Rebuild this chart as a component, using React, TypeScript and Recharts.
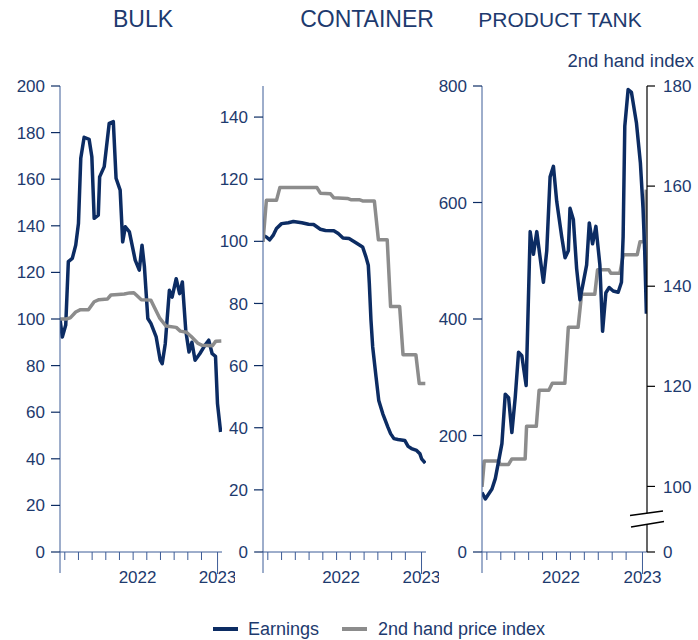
import React from 'react';
import { LineChart, Line, XAxis, YAxis } from 'recharts';

const NAVY = '#0c2c63';
const GREY = '#8c8c8c';
const TEXT = '#1d3a6e';
const AXIS = '#3d5c97';
const FONT = '"Liberation Sans", Arial, sans-serif';

// x positions are in months from the start of the series
const X_MAX = 23.7;
const MINOR_TICKS = [0.7, 2.7, 4.7, 6.7, 8.7, 10.7, 12.7, 14.7, 16.7, 18.7, 20.7];
const LABEL_2022 = 11.35;
const TICK_2023 = 23.05;
const X_TICKS = [0, ...MINOR_TICKS, LABEL_2022, TICK_2023];

const TITLES = ['BULK', 'CONTAINER', 'PRODUCT TANK'];
const SERIES_NAMES = ['Earnings', '2nd hand price index'];

// BULK
const bulkEarnM = [0, 0.34, 0.84, 1.22, 1.8, 2.3, 2.7, 3.04, 3.53, 4.26, 4.66, 5.0, 5.6, 5.8, 6.47, 7.2, 7.8, 8.2, 8.8, 9.17, 9.56, 10.15, 11.0, 11.6, 12.0, 12.35, 12.85, 13.3, 14.07, 14.66, 14.95, 15.4, 16.0, 16.4, 17.0, 17.5, 17.9, 18.4, 18.87, 19.3, 19.76, 20.45, 21.2, 21.76, 22.26, 22.75, 23.04, 23.5];
const bulkEarnV = [100, 92.3, 97.4, 124.6, 126, 131.7, 141, 169, 178, 177.1, 169.6, 143.2, 144.6, 161, 165.4, 184, 184.7, 160.4, 155.3, 133.1, 139.6, 137.4, 125.3, 121, 131.7, 122.4, 100.2, 98.1, 92.3, 82.3, 80.8, 89.4, 112.3, 109.4, 117.3, 110.9, 115.9, 95.1, 85.8, 90, 82.3, 85.1, 88.7, 90.9, 85.1, 84, 63.7, 51.5];
const bulkPriceM = [0, 0.9, 1.5, 2.3, 3.0, 4.16, 5.0, 5.7, 6.96, 7.45, 8.5, 9.4, 10.2, 10.8, 11.2, 11.9, 13.3, 13.8, 14.56, 15.5, 17.0, 17.6, 18.5, 19.2, 19.7, 20.2, 20.8, 22.3, 22.8, 23.6];
const bulkPriceV = [100, 100, 100.5, 103, 104, 104, 107.4, 108.3, 108.6, 110.3, 110.5, 110.7, 111.2, 111.3, 110.2, 108.3, 108.1, 105, 100.5, 97, 96.4, 94.8, 94.3, 92.5, 91, 89.5, 88.7, 88.5, 90.5, 90.6];

// CONTAINER
const contEarnM = [0, 0.49, 0.98, 1.47, 1.96, 2.7, 3.68, 4.42, 5.64, 6.62, 7.36, 8.34, 9.08, 10.3, 10.94, 11.63, 12.51, 13.1, 13.74, 14.48, 14.97, 15.31, 15.46, 15.7, 15.95, 16.44, 16.83, 17.42, 18.16, 18.55, 19.04, 19.63, 20.61, 21.1, 21.59, 22.33, 22.82, 23.06, 23.6];
const contEarnV = [101.9, 101.4, 100.5, 101.9, 104.1, 105.7, 106, 106.4, 106, 105.5, 105.4, 103.9, 103.5, 103.4, 102.5, 101.1, 100.9, 100.1, 99.2, 98.2, 95, 92.3, 86.4, 74.6, 66, 56.3, 48.8, 44.5, 40.2, 38.1, 36.5, 36.2, 35.9, 34, 33.3, 32.7, 31.6, 30, 28.6];
const contPriceM = [0, 0.49, 1.96, 2.45, 7.85, 8.34, 9.81, 10.3, 12.27, 12.76, 13.98, 14.48, 16.19, 16.78, 18.06, 18.55, 19.87, 20.36, 22.23, 22.72, 23.6];
const contPriceV = [99.8, 113.2, 113.2, 117.3, 117.3, 115.5, 115.3, 114, 113.8, 113.4, 113.4, 113, 113, 100.5, 100.5, 79, 79, 63.5, 63.5, 54.2, 54.2];

// PRODUCT TANK
const tankEarnM = [0, 0.48, 1.43, 1.91, 2.39, 2.86, 3.34, 3.82, 4.29, 4.77, 5.25, 5.72, 6.34, 6.92, 7.39, 7.87, 8.35, 8.82, 9.3, 9.78, 10.26, 10.73, 11.45, 11.93, 12.4, 12.64, 13.12, 13.59, 14.07, 14.55, 15.03, 15.41, 15.88, 16.36, 16.93, 17.32, 17.79, 18.27, 18.84, 19.56, 20.03, 20.27, 20.51, 20.99, 21.47, 22.18, 22.75, 23.13, 23.37, 23.61];
const tankEarnV = [102, 91, 108, 126, 156, 186, 271, 265, 205, 265, 343, 337, 286, 550, 511, 550, 505, 463, 517, 644, 662, 602, 541, 505, 517, 590, 571, 487, 433, 463, 493, 565, 529, 559, 493, 379, 445, 454, 448, 446, 463, 541, 731, 794, 789, 737, 668, 590, 517, 409];
const tankPriceM = [0, 0.33, 2.39, 2.6, 3.82, 4.29, 6.2, 6.4, 7.8, 8.2, 9.6, 10.1, 11.9, 12.4, 13.8, 14.3, 16.2, 16.6, 18.2, 18.5, 19.8, 20.3, 22.3, 22.7, 23.3, 23.6];
const tankPriceV = [99.9, 105.1, 105.1, 104.4, 104.4, 105.5, 105.5, 112, 112, 119.2, 119.2, 120.6, 120.6, 131.8, 131.8, 138.4, 138.4, 143.3, 143.3, 142.6, 142.6, 146.3, 146.3, 148.9, 148.9, 159.3];

const BULK_TICKS = [0, 20, 40, 60, 80, 100, 120, 140, 160, 180, 200];
const CONT_TICKS = [0, 20, 40, 60, 80, 100, 120, 140];
const TANK_TICKS = [0, 200, 400, 600, 800];
const RIGHT_BREAK = 86.9;
const RIGHT_TICKS = [RIGHT_BREAK, 100, 120, 140, 160, 180];

const pts = (ms: number[], vs: number[]) => ms.map((m, i) => ({ m, v: vs[i] }));

const XTick = (props: any) => {
  const { x, y, payload } = props;
  const v = payload.value;
  if (v === 0) {
    return <line x1={x} x2={x} y1={y} y2={y + 21} stroke={AXIS} strokeWidth={1} />;
  }
  if (v === LABEL_2022) {
    return (
      <text x={x} y={y + 31} textAnchor="middle" fill={TEXT} fontSize={17} fontFamily={FONT}>
        2022
      </text>
    );
  }
  if (v === TICK_2023) {
    return (
      <g>
        <line x1={x} x2={x} y1={y} y2={y + 22} stroke={AXIS} strokeWidth={1} />
        <text x={x} y={y + 31} textAnchor="middle" fill={TEXT} fontSize={17} fontFamily={FONT}>
          2023
        </text>
      </g>
    );
  }
  return <line x1={x} x2={x} y1={y} y2={y + 8} stroke={AXIS} strokeWidth={1} />;
};

const RightTick = (props: any) => {
  const { x, y, payload } = props;
  const isBreak = payload.value < 90;
  return (
    <g>
      <line x1={x} x2={x + 8} y1={y} y2={y} stroke="#000" strokeWidth={1.2} />
      <text x={x + 16} y={y} dy="0.36em" textAnchor="start" fill={TEXT} fontSize={17} fontFamily={FONT}>
        {isBreak ? '0' : payload.value}
      </text>
      {isBreak && (
        <g>
          <rect x={x - 3} y={y - 39} width={6} height={12} fill="#fff" />
          <line x1={x - 17} y1={y - 36.5} x2={x + 16} y2={y - 41} stroke="#000" strokeWidth={1.5} />
          <line x1={x - 16} y1={y - 25} x2={x + 17} y2={y - 30.5} stroke="#000" strokeWidth={1.5} />
        </g>
      )}
    </g>
  );
};

const tickStyle = { fill: TEXT, fontSize: 17, fontFamily: FONT };

const xAxisEl = (
  <XAxis
    type="number"
    dataKey="m"
    domain={[0, X_MAX]}
    ticks={X_TICKS}
    interval={0}
    tickLine={false}
    tickSize={0}
    tickMargin={0}
    height={40}
    axisLine={{ stroke: AXIS, strokeWidth: 1 }}
    tick={<XTick />}
    allowDataOverflow
  />
);

const Panel = ({ left, width, children, margin }: any) => (
  <div style={{ position: 'absolute', left, top: 0 }}>
    <LineChart width={width} height={600} margin={margin}>
      {children}
    </LineChart>
  </div>
);

export default function App() {
  return (
    <div style={{ position: 'absolute', left: 0, top: 0, width: 698, height: 640, background: '#fff', fontFamily: FONT }}>
      <Panel left={0} width={235} margin={{ top: 86, right: 13, bottom: 8, left: 0 }}>
        {xAxisEl}
        <YAxis
          type="number"
          domain={[0, 200]}
          ticks={BULK_TICKS}
          interval={0}
          width={60}
          tickSize={9}
          tickMargin={6}
          axisLine={{ stroke: AXIS, strokeWidth: 1 }}
          tickLine={{ stroke: NAVY, strokeWidth: 1.2 }}
          tick={tickStyle}
        />
        <Line data={pts(bulkEarnM, bulkEarnV)} dataKey="v" type="linear" stroke={NAVY} strokeWidth={3.5} dot={false} isAnimationActive={false} strokeLinejoin="round" />
        <Line data={pts(bulkPriceM, bulkPriceV)} dataKey="v" type="linear" stroke={GREY} strokeWidth={3.5} dot={false} isAnimationActive={false} strokeLinejoin="round" />
      </Panel>

      <Panel left={203} width={236} margin={{ top: 86, right: 13, bottom: 8, left: 0 }}>
        {xAxisEl}
        <YAxis
          type="number"
          domain={[0, 150]}
          ticks={CONT_TICKS}
          interval={0}
          width={60}
          tickSize={9}
          tickMargin={6}
          axisLine={{ stroke: AXIS, strokeWidth: 1 }}
          tickLine={{ stroke: NAVY, strokeWidth: 1.2 }}
          tick={tickStyle}
        />
        <Line data={pts(contEarnM, contEarnV)} dataKey="v" type="linear" stroke={NAVY} strokeWidth={3.5} dot={false} isAnimationActive={false} strokeLinejoin="round" />
        <Line data={pts(contPriceM, contPriceV)} dataKey="v" type="linear" stroke={GREY} strokeWidth={3.5} dot={false} isAnimationActive={false} strokeLinejoin="round" />
      </Panel>

      <Panel left={422} width={276} margin={{ top: 86, right: 0, bottom: 8, left: 0 }}>
        {xAxisEl}
        <YAxis
          yAxisId="left"
          type="number"
          domain={[0, 800]}
          ticks={TANK_TICKS}
          interval={0}
          width={60}
          tickSize={9}
          tickMargin={6}
          axisLine={{ stroke: AXIS, strokeWidth: 1 }}
          tickLine={{ stroke: NAVY, strokeWidth: 1.2 }}
          tick={tickStyle}
        />
        <YAxis
          yAxisId="right"
          orientation="right"
          type="number"
          domain={[RIGHT_BREAK, 180]}
          ticks={RIGHT_TICKS}
          interval={0}
          width={51}
          tickSize={0}
          tickMargin={0}
          tickLine={false}
          axisLine={{ stroke: '#000', strokeWidth: 1.2 }}
          tick={<RightTick />}
        />
        <Line yAxisId="right" data={pts(tankPriceM, tankPriceV)} dataKey="v" type="linear" stroke={GREY} strokeWidth={3.5} dot={false} isAnimationActive={false} strokeLinejoin="round" />
        <Line yAxisId="left" data={pts(tankEarnM, tankEarnV)} dataKey="v" type="linear" stroke={NAVY} strokeWidth={3.5} dot={false} isAnimationActive={false} strokeLinejoin="round" />
      </Panel>

      <svg width={698} height={640} style={{ position: 'absolute', left: 0, top: 0, pointerEvents: 'none' }}>
        <text x={143} y={27} textAnchor="middle" fill={TEXT} fontSize={23} fontFamily={FONT}>{TITLES[0]}</text>
        <text x={367} y={27} textAnchor="middle" fill={TEXT} fontSize={23} fontFamily={FONT}>{TITLES[1]}</text>
        <text x={560} y={27} textAnchor="middle" fill={TEXT} fontSize={21} fontFamily={FONT}>{TITLES[2]}</text>
        <text x={694} y={67} textAnchor="end" fill={TEXT} fontSize={18.5} fontFamily={FONT}>2nd hand index</text>
        <line x1={213} x2={238} y1={629} y2={629} stroke={NAVY} strokeWidth={4} />
        <text x={248} y={635} fill={TEXT} fontSize={18} fontFamily={FONT}>{SERIES_NAMES[0]}</text>
        <line x1={342} x2={367} y1={629} y2={629} stroke={GREY} strokeWidth={4} />
        <text x={378} y={635} fill={TEXT} fontSize={18} fontFamily={FONT}>{SERIES_NAMES[1]}</text>
      </svg>
    </div>
  );
}
